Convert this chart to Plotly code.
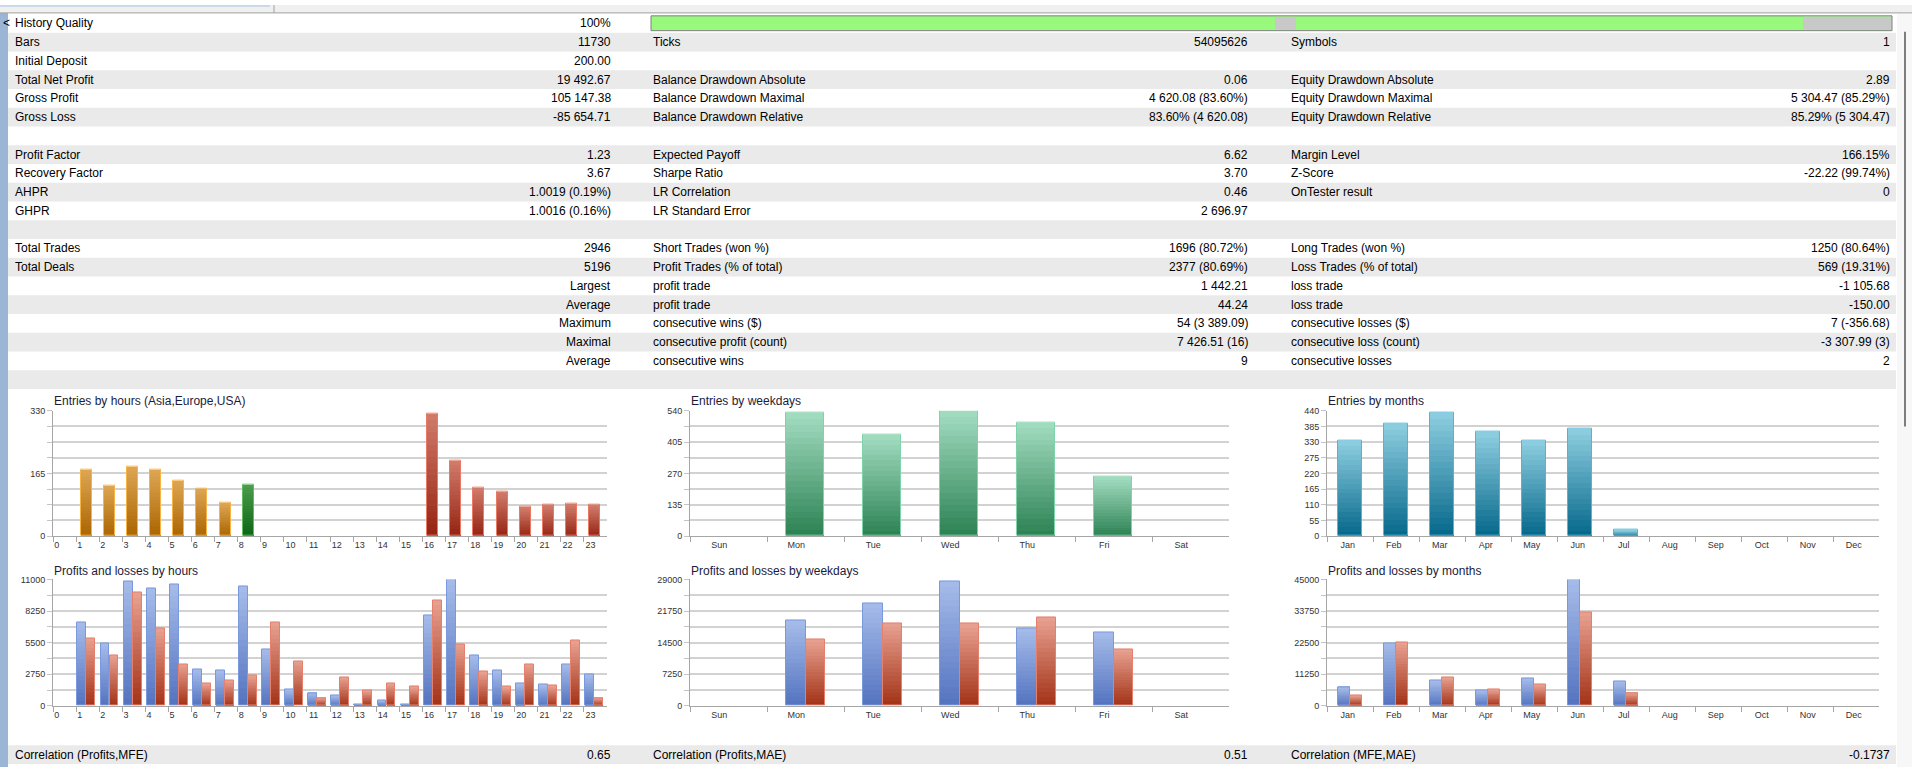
import plotly.graph_objects as go

W, H = 1912, 772

# ---- report table ----
col1_labels = ["History Quality", "Bars", "Initial Deposit", "Total Net Profit", "Gross Profit", "Gross Loss", "",
               "Profit Factor", "Recovery Factor", "AHPR", "GHPR", "",
               "Total Trades", "Total Deals", "", "", "", "", "", ""]
col1_values = ["100%", "11730", "200.00", "19 492.67", "105 147.38", "-85 654.71", "",
               "1.23", "3.67", "1.0019 (0.19%)", "1.0016 (0.16%)", "",
               "2946", "5196", "Largest", "Average", "Maximum", "Maximal", "Average", ""]
col2_labels = ["", "Ticks", "", "Balance Drawdown Absolute", "Balance Drawdown Maximal", "Balance Drawdown Relative", "",
               "Expected Payoff", "Sharpe Ratio", "LR Correlation", "LR Standard Error", "",
               "Short Trades (won %)", "Profit Trades (% of total)", "profit trade", "profit trade",
               "consecutive wins ($)", "consecutive profit (count)", "consecutive wins", ""]
col2_values = ["", "54095626", "", "0.06", "4 620.08 (83.60%)", "83.60% (4 620.08)", "",
               "6.62", "3.70", "0.46", "2 696.97", "",
               "1696 (80.72%)", "2377 (80.69%)", "1 442.21", "44.24", "54 (3 389.09)", "7 426.51 (16)", "9", ""]
col3_labels = ["", "Symbols", "", "Equity Drawdown Absolute", "Equity Drawdown Maximal", "Equity Drawdown Relative", "",
               "Margin Level", "Z-Score", "OnTester result", "", "",
               "Long Trades (won %)", "Loss Trades (% of total)", "loss trade", "loss trade",
               "consecutive losses ($)", "consecutive loss (count)", "consecutive losses", ""]
col3_values = ["", "1", "", "2.89", "5 304.47 (85.29%)", "85.29% (5 304.47)", "",
               "166.15%", "-22.22 (99.74%)", "0", "", "",
               "1250 (80.64%)", "569 (19.31%)", "-1 105.68", "-150.00", "7 (-356.68)", "-3 307.99 (3)", "2", ""]
footer_labels = ["Correlation (Profits,MFE)", "Correlation (Profits,MAE)", "Correlation (MFE,MAE)"]
footer_values = ["0.65", "0.51", "-0.1737"]

# ---- chart data ----
hours = [str(h) for h in range(24)]
hour_session = [0] * 8 + [1] * 8 + [2] * 8          # Asia, Europe, USA
entries_by_hour = [0, 174, 132, 182, 174, 145, 124, 88, 135, 0, 0, 0, 0, 0, 0, 0,
                   322, 199, 127, 116, 76, 82, 85, 82]
profit_by_hour = [0, 7300, 5450, 10850, 10200, 10550, 3150, 3050, 10350, 4900, 1400, 1100, 870, 110, 430, 110,
                  7900, 11000, 4350, 3050, 1950, 1850, 3600, 2700]
loss_by_hour = [0, 5900, 4350, 9850, 6750, 3600, 1950, 2200, 2600, 7250, 3900, 650, 2500, 1300, 1950, 1650,
                9200, 5350, 2950, 1650, 3600, 1750, 5650, 650]

weekdays = ["Sun", "Mon", "Tue", "Wed", "Thu", "Fri", "Sat"]
entries_by_weekday = [0, 531, 436, 539, 490, 254, 0]
profit_by_weekday = [0, 19500, 23600, 28550, 17700, 16800, 0]
loss_by_weekday = [0, 15200, 19000, 18800, 20300, 12900, 0]

months = ["Jan", "Feb", "Mar", "Apr", "May", "Jun", "Jul", "Aug", "Sep", "Oct", "Nov", "Dec"]
entries_by_month = [335, 394, 434, 365, 335, 376, 21, 0, 0, 0, 0, 0]
profit_by_month = [6700, 22300, 8900, 5400, 9800, 45000, 8500, 0, 0, 0, 0, 0]
loss_by_month = [3600, 22700, 10200, 5800, 7600, 33400, 4500, 0, 0, 0, 0, 0]

FONT = "Liberation Sans"


def px(x):
    return x / W


def py(y):
    return 1 - y / H


def rgb(h):
    return tuple(int(h[i:i + 2], 16) for i in (1, 3, 5))


def mix(c1, c2, t):
    a, b = rgb(c1), rgb(c2)
    return "rgb(%d,%d,%d)" % tuple(round(a[i] + (b[i] - a[i]) * t) for i in range(3))


fig = go.Figure()


def gradient_bars(ax, values, bottoms, tops, edges, offset, width, n=20):
    # vertical gradient made of stacked slices, plus one outline bar on top
    x = list(range(len(values)))
    for k in range(n):
        t = (k + 0.5) / n
        fig.add_bar(x=x, y=[v / n if v else None for v in values],
                    base=[v * k / n if v else None for v in values],
                    offset=offset, width=width,
                    marker=dict(color=[mix(b, tp, t) for b, tp in zip(bottoms, tops)], line_width=0),
                    xaxis="x" + ax, yaxis="y" + ax, hoverinfo="skip", showlegend=False)
    fig.add_bar(x=x, y=[v if v else None for v in values], base=0, offset=offset, width=width,
                marker=dict(color="rgba(0,0,0,0)", line=dict(color=edges, width=1)),
                xaxis="x" + ax, yaxis="y" + ax, hoverinfo="skip", showlegend=False)


def setup_axes(ax, left, right, top, bottom, labels, label_pos, ymax, yticks, ystep):
    n = len(labels)
    tick_font = dict(family=FONT, size=9, color="#333333")
    fig.layout["xaxis" + ax] = dict(
        domain=[px(left), px(right)], anchor="y" + ax, range=[0, n],
        showgrid=False, zeroline=False, showline=True, linecolor="#a6a6a6", linewidth=1,
        tickmode="array", tickvals=[i + p for i, p in enumerate(label_pos)], ticktext=labels,
        ticks="outside", ticklen=0, tickfont=tick_font,
        minor=dict(tickmode="array", tickvals=list(range(n)), ticks="outside", ticklen=5,
                   tickcolor="#a6a6a6", showgrid=False),
        fixedrange=True)
    minors = []
    v = 0.0
    while v <= ymax + 1e-9:
        minors.append(v)
        v += ystep
    fig.layout["yaxis" + ax] = dict(
        domain=[py(bottom), py(top)], anchor="x" + ax, range=[0, ymax],
        showgrid=True, gridcolor="#d2d2d2", gridwidth=1.5, zeroline=False,
        showline=True, linecolor="#a6a6a6", linewidth=1,
        tickmode="array", tickvals=yticks, ticktext=[str(int(t)) for t in yticks],
        ticks="outside", ticklen=5, tickcolor="#c4c4c4", tickfont=tick_font,
        minor=dict(tickmode="array", tickvals=minors, ticks="outside", ticklen=5, tickcolor="#c4c4c4",
                   showgrid=True, gridcolor="#d2d2d2", gridwidth=1.5),
        fixedrange=True)


# session colours for hours: bottom, top, edge
sess_bottom = ["#ab6400", "#0b6512", "#942210"]
sess_top = ["#dda653", "#4c9c4c", "#d27c6c"]
sess_edge = ["#f6b446", "#62bb62", "#e87a66"]

blue_b, blue_t, blue_e = "#5473bf", "#a6bdea", "#7a98de"
red_b, red_t, red_e = "#a23216", "#e9a292", "#e6806e"

hour_pos = [0.16 if len(h) == 1 else 0.29 for h in hours]

# chart 1: entries by hours
setup_axes("", 53, 607, 411, 538, hours, hour_pos, 330, [0, 165, 330], 41.25)
gradient_bars("", entries_by_hour,
              [sess_bottom[s] for s in hour_session], [sess_top[s] for s in hour_session],
              [sess_edge[s] for s in hour_session], 0.216, 0.476)

# chart 2: profits and losses by hours
setup_axes("2", 53, 607, 582, 710, hours, hour_pos, 11000, [0, 2750, 5500, 8250, 11000], 1375)
gradient_bars("2", profit_by_hour, [blue_b] * 24, [blue_t] * 24, [blue_e] * 24, 0.06, 0.385)
gradient_bars("2", loss_by_hour, [red_b] * 24, [red_t] * 24, [red_e] * 24, 0.45, 0.385)

# chart 3: entries by weekdays
wd_pos = [0.38] * 7
setup_axes("3", 690, 1229, 411, 538, weekdays, wd_pos, 540, [0, 135, 270, 405, 540], 67.5)
gradient_bars("3", entries_by_weekday, ["#2b8152"] * 7, ["#a3ddc1"] * 7, ["#7fd3aa"] * 7, 0.25, 0.49)

# chart 4: profits and losses by weekdays
setup_axes("4", 690, 1229, 582, 710, weekdays, wd_pos, 29000, [0, 7250, 14500, 21750, 29000], 3625)
gradient_bars("4", profit_by_weekday, [blue_b] * 7, [blue_t] * 7, [blue_e] * 7, 0.25, 0.25)
gradient_bars("4", loss_by_weekday, [red_b] * 7, [red_t] * 7, [red_e] * 7, 0.50, 0.255)

# chart 5: entries by months
mo_pos = [0.45] * 12
setup_axes("5", 1327, 1879, 411, 538, months, mo_pos, 440, [0, 55, 110, 165, 220, 275, 330, 385, 440], 55)
gradient_bars("5", entries_by_month, ["#04678a"] * 12, ["#8fcfe1"] * 12, ["#4fb6d6"] * 12, 0.24, 0.51)

# chart 6: profits and losses by months
setup_axes("6", 1327, 1879, 582, 710, months, mo_pos, 45000, [0, 11250, 22500, 33750, 45000], 5625)
gradient_bars("6", profit_by_month, [blue_b] * 12, [blue_t] * 12, [blue_e] * 12, 0.24, 0.255)
gradient_bars("6", loss_by_month, [red_b] * 12, [red_t] * 12, [red_e] * 12, 0.495, 0.255)

# ---- table shapes and texts ----
ROW0, ROWH = 9, 19
shapes = []
annotations = []


def rect(x0, y0, x1, y1, color, line=None, layer="below"):
    shapes.append(dict(type="rect", xref="paper", yref="paper", x0=px(x0), x1=px(x1), y0=py(y1), y1=py(y0),
                       fillcolor=color, line=dict(width=1 if line else 0, color=line or color), layer=layer))


def text(x, y, s, anchor="left", size=12, color="#000000"):
    if s:
        annotations.append(dict(xref="paper", yref="paper", x=px(x), y=py(y), text=s, showarrow=False,
                                xanchor=anchor, yanchor="middle", font=dict(family=FONT, size=size, color=color)))


for r in range(20):
    y0 = ROW0 + ROWH * r
    if r % 2 == 1:
        rect(8, y0, 1896, y0 + ROWH, "#eaeaea")
    yc = y0 + ROWH / 2
    text(13, yc, col1_labels[r])
    text(613, yc, col1_values[r], "right")
    text(651, yc, col2_labels[r])
    text(1250, yc, col2_values[r], "right")
    text(1289, yc, col3_labels[r])
    text(1892, yc, col3_values[r], "right")

# history quality bar
rect(651, 11, 1892, 26, "#98f97d", line="#7f7f7f")
rect(1275, 12, 1296, 25, "#c8c8c8")
rect(1803, 12, 1891, 25, "#c8c8c8")

# footer row
rect(8, 750, 1896, 769, "#eaeaea")
for i, (lab, val) in enumerate(zip(footer_labels, footer_values)):
    text([13, 651, 1289][i], 759.5, lab)
    text([613, 1250, 1892][i], 759.5, val, "right")

# chart titles
for x, y, s in [(52, 401, "Entries by hours (Asia,Europe,USA)"), (52, 573, "Profits and losses by hours"),
                (689, 401, "Entries by weekdays"), (689, 573, "Profits and losses by weekdays"),
                (1326, 401, "Entries by months"), (1326, 573, "Profits and losses by months")]:
    text(x, y, s, size=12, color="#1b1b3a")

# window chrome: left strip, top tab bar, scrollbar
rect(0, 0, 8, H, "#9bb5d4")
rect(0, 0, W, 8, "#f0f0f0")
rect(0, 0, 270, 2, "#c9d8ea")
shapes.append(dict(type="line", xref="paper", yref="paper", x0=0, x1=1, y0=py(8), y1=py(8),
                   line=dict(color="#a0a0a0", width=1)))
shapes.append(dict(type="line", xref="paper", yref="paper", x0=px(274), x1=px(274), y0=py(0), y1=py(8),
                   line=dict(color="#a0a0a0", width=1)))
rect(1897, 9, W, H, "#f7f7f7")
shapes.append(dict(type="line", xref="paper", yref="paper", x0=px(1905), x1=px(1905), y0=py(27), y1=py(427),
                   line=dict(color="#7d7d7d", width=2)))
text(1, 18, "<", size=12, color="#000000")

fig.update_layout(
    width=W, height=H, margin=dict(l=0, r=0, t=0, b=0),
    paper_bgcolor="white", plot_bgcolor="white",
    barmode="overlay", bargap=0, showlegend=False,
    shapes=shapes, annotations=annotations,
)

fig.write_html("out.html", config={"displayModeBar": False},
               post_script="document.body.style.margin='0';document.body.style.overflow='hidden';")
